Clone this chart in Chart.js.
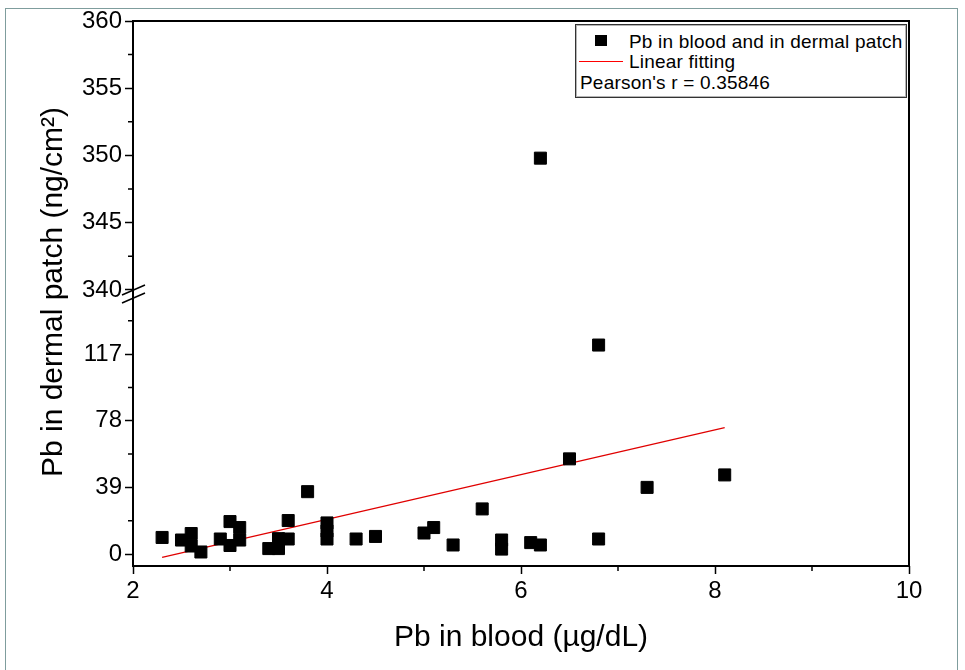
<!DOCTYPE html>
<html>
<head>
<meta charset="utf-8">
<script src="https://cdn.jsdelivr.net/npm/chart.js@4.4.1/dist/chart.umd.min.js"></script>
<style>
    body { margin: 0; background: #fff; }
    #wrap { position: relative; width: 965px; height: 670px; font-family: "Liberation Sans", Arial, sans-serif; }
    #frame { position: absolute; left: 5px; top: 8px; width: 951px; height: 700px; border: 1px solid #7f9d9d; pointer-events: none; }
    .legend-box { position: absolute; left: 575px; top: 24px; width: 330px; height: 72px; border: 1px solid #333; box-shadow: inset 0 0 0 1px #b5b5b5; background: #fff; }
    .lg { position: absolute; font-size: 19px; line-height: 22px; letter-spacing: 0.2px; color: #000; white-space: nowrap; }
</style>
</head>
<body>
<div id="wrap">
    <canvas id="chart" width="965" height="670"></canvas>
    <div id="frame"></div>
    <div class="legend-box"></div>
    <div style="position:absolute;left:595px;top:35px;width:12px;height:11px;background:#000"></div>
    <div class="lg" style="left:629px;top:31px">Pb in blood and in dermal patch</div>
    <div style="position:absolute;left:579px;top:61px;width:44px;height:1px;background:#ff0000"></div>
    <div class="lg" style="left:629px;top:51px">Linear fitting</div>
    <div class="lg" style="left:580px;top:72px">Pearson's r = 0.35846</div>
</div>
<script>
/* =======================================================
   DATA
   ======================================================= */
const bloodPb = [2.3, 2.5, 2.6, 2.6, 2.7, 2.9, 3.0, 3.0, 3.1, 3.1, 3.4, 3.5, 3.5, 3.6, 3.6, 3.8,
                 4.0, 4.0, 4.0, 4.3, 4.5, 5.0, 5.1, 5.3, 5.6, 5.8, 5.8, 6.1, 6.2, 6.5, 6.8, 6.8,
                 7.3, 8.1, 6.2];
const patchPb = [9.7, 8.2, 12, 4.7, 1.2, 8.8, 19, 5, 15.5, 8.2, 3.2, 3.2, 9, 19.6, 8.8, 36.5,
                 18.2, 13.5, 8.8, 8.8, 10.3, 12.3, 15.5, 5.3, 26.4, 8.2, 2.9, 6.7, 5.3, 55.7, 8.8, 122.3,
                 39, 46.3, 349.8];

const fitX = [2.3, 8.1];
const fitY = [-2, 74];

const xTicks = [2, 4, 6, 8, 10];
const xMinor = [3, 5, 7, 9];
const yLowTicks = [0, 39, 78, 117];
const yLowMinor = [19.5, 58.5, 97.5, 136.5];
const yHighTicks = [340, 345, 350, 355, 360];
const yHighMinor = [342.5, 347.5, 352.5, 357.5];

// axis break: lower part -7..151, upper part 339.55..360
const lowRange = [-7, 151];
const highRange = [339.55, 360];

/* =======================================================
   SPLIT POINTS BETWEEN THE TWO SEGMENTS
   ======================================================= */
const lowPts = [];
const highPts = [];
bloodPb.forEach((x, i) => {
    const p = { x: x, y: patchPb[i] };
    if (p.y > lowRange[1]) highPts.push(p); else lowPts.push(p);
});

const FONT = "'Liberation Sans', Arial, sans-serif";

/* =======================================================
   PLUGIN: frame, minor ticks, axis break, axis titles
   ======================================================= */
const decor = {
    id: "decor",
    afterDraw(chart) {
        const ctx = chart.ctx;
        const a = chart.chartArea;
        const sx = chart.scales.x, sl = chart.scales.yLow, sh = chart.scales.yHigh;
        ctx.save();
        ctx.strokeStyle = "#000";
        ctx.lineWidth = 2;
        ctx.strokeRect(a.left, a.top, a.right - a.left, a.bottom - a.top);

        // minor ticks
        ctx.lineWidth = 1.5;
        ctx.beginPath();
        xMinor.forEach(v => {
            const px = sx.getPixelForValue(v);
            ctx.moveTo(px, a.bottom); ctx.lineTo(px, a.bottom + 5);
        });
        yLowMinor.forEach(v => {
            const py = sl.getPixelForValue(v);
            ctx.moveTo(a.left - 5, py); ctx.lineTo(a.left, py);
        });
        yHighMinor.forEach(v => {
            const py = sh.getPixelForValue(v);
            ctx.moveTo(a.left - 5, py); ctx.lineTo(a.left, py);
        });
        ctx.stroke();

        // break marks
        const b = sh.bottom;
        ctx.lineWidth = 1.5;
        ctx.beginPath();
        ctx.moveTo(a.left - 11, b - 1); ctx.lineTo(a.left + 12, b - 11);
        ctx.moveTo(a.left - 11, b + 7); ctx.lineTo(a.left + 12, b - 3);
        ctx.stroke();

        // titles
        ctx.fillStyle = "#000";
        ctx.font = "30px " + FONT;
        ctx.textAlign = "center";
        ctx.textBaseline = "alphabetic";
        ctx.fillText("Pb in blood (\u00b5g/dL)", (a.left + a.right) / 2, 646);
        ctx.translate(62, 292);
        ctx.rotate(-Math.PI / 2);
        ctx.fillText("Pb in dermal patch (ng/cm\u00b2)", 0, 0);
        ctx.restore();
    }
};

function yAxis(range, ticks, weight) {
    return {
        type: "linear",
        position: "left",
        stack: "pb",
        stackWeight: weight,
        min: range[0],
        max: range[1],
        afterBuildTicks: s => { s.ticks = ticks.map(v => ({ value: v })); },
        afterFit: s => { s.width = 133; },
        grid: { drawOnChartArea: false, tickLength: 8, tickColor: "#000", tickWidth: 1.5, color: "#000" },
        border: { display: false },
        ticks: { color: "#000", font: { size: 24, family: FONT }, padding: 3 }
    };
}

new Chart(document.getElementById("chart"), {
    type: "scatter",
    data: {
        datasets: [
            {
                label: "Pb in blood and in dermal patch",
                data: lowPts,
                yAxisID: "yLow",
                pointStyle: "rect",
                pointRadius: 8.5,
                backgroundColor: "#000",
                borderColor: "#000",
                borderWidth: 1
            },
            {
                label: "Pb in blood and in dermal patch (upper)",
                data: highPts,
                yAxisID: "yHigh",
                pointStyle: "rect",
                pointRadius: 8.5,
                backgroundColor: "#000",
                borderColor: "#000",
                borderWidth: 1
            },
            {
                label: "Linear fitting",
                data: fitX.map((x, i) => ({ x: x, y: fitY[i] })),
                yAxisID: "yLow",
                showLine: true,
                pointRadius: 0,
                borderColor: "#e00000",
                borderWidth: 1.2
            }
        ]
    },
    options: {
        responsive: false,
        animation: false,
        layout: { padding: { top: 21, right: 56, left: 0, bottom: 0 } },
        plugins: { legend: { display: false }, tooltip: { enabled: false } },
        scales: {
            x: {
                type: "linear",
                min: 2,
                max: 10,
                afterBuildTicks: s => { s.ticks = xTicks.map(v => ({ value: v })); },
                afterFit: s => { s.height = 104; },
                grid: { drawOnChartArea: false, tickLength: 8, tickColor: "#000", tickWidth: 1.5, color: "#000" },
                border: { display: false },
                ticks: { color: "#000", font: { size: 24, family: FONT }, padding: 3, maxRotation: 0 }
            },
            yLow: yAxis(lowRange, yLowTicks, 270),
            yHigh: yAxis(highRange, yHighTicks, 275)
        }
    },
    plugins: [decor]
});
</script>
</body>
</html>
